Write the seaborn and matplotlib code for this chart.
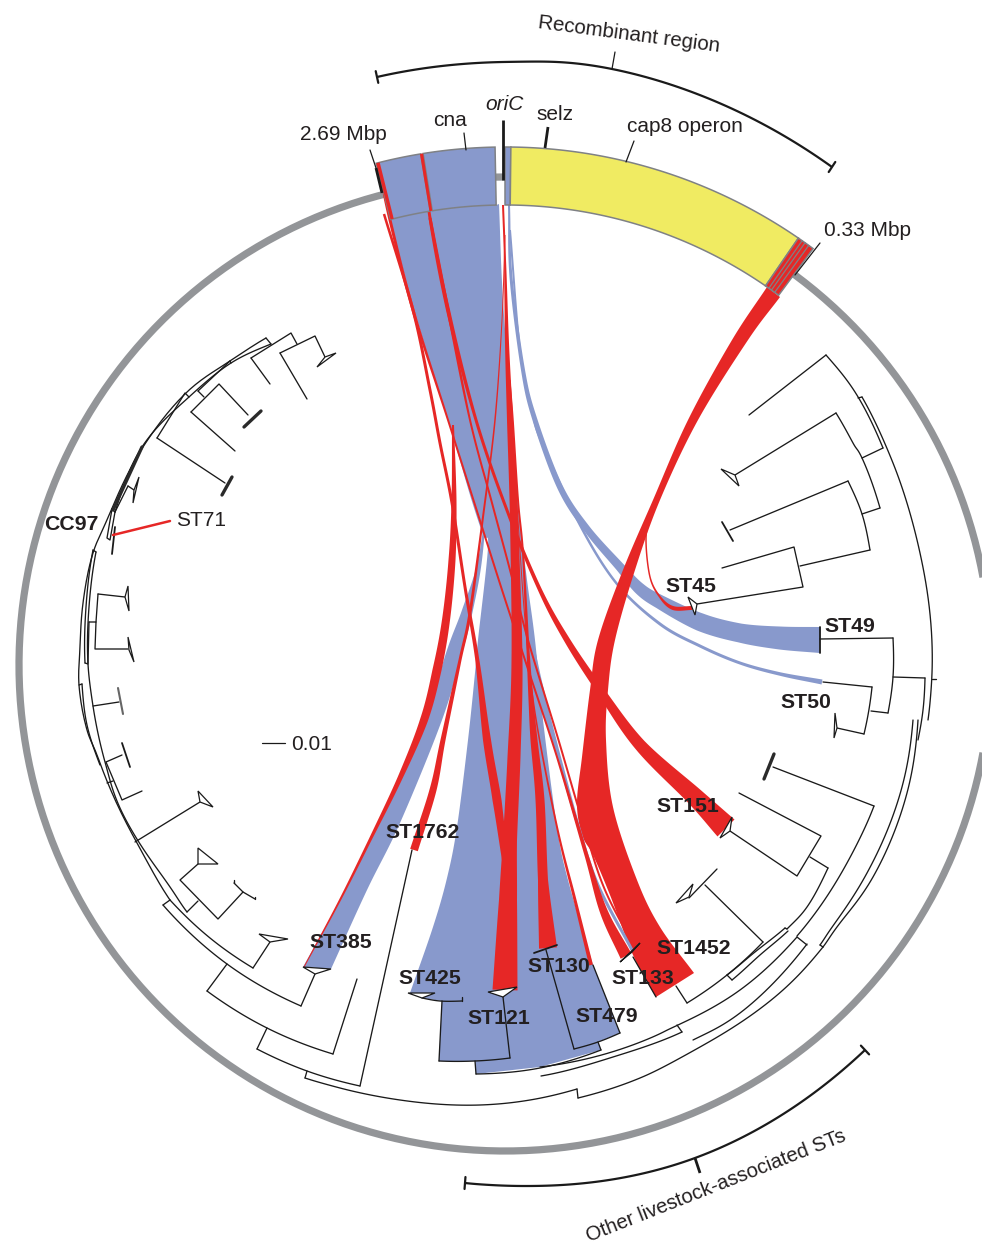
import numpy as np, pandas as pd
import matplotlib
matplotlib.use("Agg")
import matplotlib.pyplot as plt
import seaborn as sns

sns.set_theme(style="white")
plt.rcParams['font.family'] = ['Liberation Sans', 'DejaVu Sans']

BLUE, RED, YELLOW, GREY, INK = '#8899CC', '#E62726', '#F0EB62', '#939598', '#231F20'
CX, CY = 505, 665

# ---- genome ring / segments (degrees clockwise from north, radii in px)
ring_span = (36.5, 345.6)
ring_top_span = (-1.1, 0.0)
segments = [(-14.4, -9.35, BLUE), (-9.1, -1.1, BLUE), (0.0, 0.65, BLUE), (0.65, 34.5, YELLOW), (34.5, 36.5, RED)]
red_stripes = [(-14.4, -14.0), (-9.45, -9.1)]
grey_ticks = [35.0, 35.4, 35.9]

# ---- ribbons: centre line and width
ribbons = {
 'st385red': (RED, [(453,425),(454,500),(452,560),(446,620),(437,670),(424,720),(400,778),(370,840),(340,900),(304,967)],
              [2,5,7,8,9,8,5,3,2,1]),
 'a_st121': (RED, [(384,214),(413,310),(430,390),(440,443),(452,503),(465,587),(477,658),(487,740),(497,800),(505,860)],
              [2.5,3,3,3,3,3,4,8,9,6]),
 'b_st133': (RED, [(379,170),(390,220),(413,310),(448,420),(482,527),(503,593),(525,660),(557,757),(587,857),(604,912),(626,956)],
              [2,3,3,2,2,2,2,2,4,8,12]),
 'c_st151': (RED, [(424,160),(430,218),(448,310),(476,420),(508,513),(540,590),(567,640),(600,690),(640,745),(695,797),(726,828)],
              [2,3,4,3,3,4,6,8,12,18,24]),
 'd_st133': (RED, [(430,218),(448,310),(470,420),(492,503),(510,570),(528,640),(557,735),(585,830),(605,890),(636,950)],
              [3,3,2,2,2,2,2,2,2,2]),
 'centre': (RED, [(503,205),(505,260),(507,343),(510,420),(514,520),(517,660),(514,757),(510,840),(508,900),(505,990)],
              [2,2,4,6,8,11,13,14,18,25]),
 'st1762': (RED, [(505,235),(502,320),(495,420),(483,517),(470,613),(460,660),(443,740),(433,790),(414,850)],
              [1,1,1.5,2,3,3,5,7,8]),
 'st130': (RED, [(510,380),(513,420),(518,500),(523,553),(528,650),(531,700),(534,740),(540,800),(543,880),(548,948)],
              [1,1.5,2,2,3,5,7,9,10,18]),
 'st479line': (RED, [(510,400),(518,520),(525,620),(535,713),(557,827),(575,900),(591,965)],
              [1,1,1,1.5,2,3,4]),
 'st45': (RED, [(660,490),(650,515),(646,540),(650,577),(660,597),(673,608),(692,608)],
              [1.5,1.5,1.5,1.5,2,4,4]),
 'st49': (BLUE, [(509,205),(511,277),(523,370),(535,420),(560,487),(587,529),(620,567),(640,589),(660,602),(700,622),(740,633),(780,638),(820,640)],
              [2,3,4,5,6,7,9,12,14,18,19,23,26]),
 'st50': (BLUE, [(510,230),(520,350),(532,410),(542,443),(580,525),(617,584),(660,624),(700,646),(740,663),(780,674),(822,682)],
              [2,2,2,2.5,2.5,2.5,3,3,3,3.5,5]),
}
stripe_blue = (BLUE, [(529,640),(540,690),(557,750),(578,825),(598,885),(632,950)], [8,8,4,3,3,3])

main_left = [(389,218),(420,330),(448,420),(470,495),(483,535),(488,547),(478,640),(475,673),(468,740),(457,827),(447,878),(433,927),(410,993)]
main_right = [(499,204),(503,300),(513,430),(520,520),(527,580),(535,640),(543,720),(557,827),(568,880),(593,965)]
main_bottom = [(422,998),(442,1001),(439,1061),(475,1061),(476,1074),(540,1067),(601,1050),(598,1042),(620,1033)]

st385_left = [(488,490),(478,560),(462,610),(447,650),(425,720),(400,778),(370,840),(340,900),(303,967)]
st385_right = [(488,490),(482,560),(473,610),(463,650),(442,720),(400,823),(367,890),(331,969)]

big_left = [(767,287),(732,340),(688,420),(653,500),(623,570),(598,640),(590,690),(582,757),(577,803),(582,835),(593,855),(610,895),(633,955),(656,997)]
big_right = [(780,297),(748,340),(698,420),(660,500),(635,570),(615,640),(608,690),(606,740),(613,807),(637,880),(660,927),(694,973)]

# ---- tree: curved and straight branches
tree_curves = [
 [(826,355),(855,392),(883,448)], [(836,413),(853,443),(862,458),(880,508)], [(848,481),(862,514),(870,550)],
 [(862,397),(893,463),(920,553),(932,673),(928,720)],
 [(925,678),(923,710),(918,740)], [(872,687),(868,715),(864,734)], [(893,638),(893,677),(888,713)],
 [(918,720),(907,793),(873,877),(840,923),(823,947)], [(913,720),(902,787),(867,873),(835,923),(820,945)],
 [(874,806),(847,863),(797,936)], [(828,868),(807,907),(787,929)], [(763,942),(727,975),(687,1003)],
 [(807,944),(740,1013),(693,1040)], [(797,937),(740,990),(678,1025),(648,1039),(540,1067)],
 [(823,947),(783,990),(700,1047),(640,1078),(578,1098)], [(788,931),(760,955),(732,980)], [(785,928),(755,952),(727,975)],
 [(682,1032),(613,1057),(541,1076)], [(577,1089),(530,1100),(480,1105),(400,1100),(340,1088),(305,1078)],
 [(257,1049),(307,1071),(360,1086)], [(207,991),(267,1028),(333,1054)], [(163,905),(227,964),(301,1006)],
 [(170,900),(210,938),(253,968)], [(266,338),(230,361),(187,392),(143,447),(110,513),(93,553),(83,603),(80,647),(79,685),(87,730),(100,763),(137,843),(170,900)],
 [(271,344),(231,363),(189,397),(142,447),(115,512)], [(96,552),(89,607),(88,664),(93,706),(105,762),(120,808),(163,877),(187,912)],
 [(93,550),(86,607),(85,663)], [(82,684),(87,725),(100,765)], [(601,1050),(540,1068),(476,1074)],
 [(620,1033),(598,1042),(574,1049)], [(439,1061),(475,1061),(510,1058)], [(422,998),(440,1001),(462,1001)],
]
tree_lines = [
 [(749,415),(826,355)],[(883,448),(862,458)],[(735,475),(836,413)],[(880,508),(862,514)],[(730,530),(848,481)],
 [(870,550),(800,566)],[(722,568),(794,547),(803,587),(697,604)],[(893,677),(925,678)],[(893,638),(820,639)],
 [(888,713),(871,711)],[(872,687),(823,682)],[(864,734),(837,728)],[(932,679),(936,679)],[(858,398),(862,397)],
 [(773,767),(874,806)],[(739,793),(821,836),(797,876),(730,831)],[(810,857),(828,868)],[(717,869),(689,898)],
 [(705,885),(763,942)],[(687,1003),(676,986)],[(797,937),(807,945)],[(787,929),(785,928)],[(727,975),(732,980)],
 [(677,1025),(682,1032)],[(823,947),(820,945)],[(577,1089),(578,1098)],
 [(593,965),(620,1033)],[(574,1049),(546,950)],[(598,1042),(601,1050)],[(476,1074),(475,1061)],
 [(510,1058),(503,997)],[(439,1061),(442,1001)],[(462,1001),(462,997)],[(633,957),(656,997)],
 [(360,1086),(412,850)],[(305,1078),(307,1071)],[(257,1049),(267,1028)],[(333,1054),(357,979)],[(207,991),(227,964)],
 [(301,1006),(315,974)],[(163,905),(170,900)],[(187,912),(198,901)],[(198,864),(180,880),(218,919),(243,892)],
 [(234,883),(243,892),(255,899)],[(234,880),(234,883)],[(255,897),(255,899)],[(253,968),(270,942)],
 [(106,762),(122,755)],[(106,762),(122,800),(142,791)],[(107,783),(113,781)],[(135,842),(200,802)],
 [(266,338),(271,344)],[(230,361),(231,363)],[(251,358),(291,333),(297,344)],[(280,353),(315,336),(325,357)],
 [(280,353),(307,399)],[(251,358),(270,384)],[(198,391),(230,361)],[(198,391),(204,397)],
 [(191,412),(219,384),(248,415)],[(191,412),(235,451)],[(157,438),(185,393),(189,397)],[(157,438),(225,483)],
 [(112,509),(115,512)],[(112,509),(107,538),(110,540),(115,512)],[(128,486),(115,512)],[(128,486),(134,490)],
 [(93,550),(96,552)],[(85,663),(88,664)],[(98,594),(125,597)],[(98,594),(96,622)],[(89,622),(96,622),(95,649),(128,649)],
 [(89,622),(88,663)],[(93,706),(119,702)],[(79,685),(82,684)],
]
# tips: outer-a, outer-b, stem
tips = [
 (721,469,739,486,735,475),(688,597,695,615,697,604),(835,713,834,738,837,728),(720,838,732,817,730,831),
 (676,903,693,884,689,897),(620,962,640,943,632,952),(408,993,435,993,422,998),(488,992,517,987,503,997),
 (303,967,331,969,315,974),(259,934,288,939,270,942),(198,848,218,864,198,864),(198,791,213,807,200,802),
 (317,367,336,353,325,357),(139,477,133,503,134,490),(128,586,129,611,125,597),(128,637,134,662,129,650),
]
thin_bars = [((722,522),(733,541)),((115,527),(112,554)),((122,743),(130,767)),((534,953),(557,945)),((820,627),(820,653))]
thick_bars = [((244,427),(261,411)),((222,495),(232,477)),((774,754),(764,779)),((113,510),(142,447))]
soft_bars = [((118,688),(123,714))]

labels_bold = [('CC97',44,525),('ST45',665,587),('ST49',824,626),('ST50',780,702),('ST151',656,806),('ST1762',385,833),
 ('ST385',309,942),('ST425',398,978),('ST121',467,1018),('ST130',527,966),('ST479',575,1016),('ST133',611,978),('ST1452',656,949)]
labels_plain = [('2.69 Mbp',300,134),('cna',433,120),('selz',536,115),('cap8 operon',627,126),('0.33 Mbp',824,231),('ST71',176,521),('0.01',291,745)]
ticks_thin = [((370,150),(376,168)),((464,133),(466,150)),((634,141),(626,162)),((820,243),(795,275)),((612,69),(615,52))]
ticks_heavy = [((503,120),(503,180)),((548,127),(545,148)),((376,168),(382,193)),((695,1158),(700,1173))]
red_pointer = [(113,535),(170,521)]
scale_bar = [(262,743),(285,743)]
top_bracket = [(377,77),(503,62),(612,69),(832,167)]
bottom_bracket = [(465,1183),(523,1186),(695,1158),(865,1050)]


def polar(r, a):
    a = np.radians(np.asarray(a, float))
    return np.column_stack([CX + r*np.sin(a), CY - r*np.cos(a)])

def arc(r, a0, a1, n=120):
    return polar(r, np.linspace(a0, a1, n))

def smooth(pts, n=16):
    p = np.asarray(pts, float)
    if len(p) < 3:
        return p
    q = np.vstack([2*p[0]-p[1], p, 2*p[-1]-p[-2]])
    out = []
    for i in range(1, len(q)-2):
        t = np.linspace(0, 1, n, endpoint=False)[:, None]
        a, b, c, d = q[i-1], q[i], q[i+1], q[i+2]
        out.append(0.5*(2*b + (c-a)*t + (2*a-5*b+4*c-d)*t**2 + (3*b-a-3*c+d)*t**3))
    out.append(p[-1:])
    return np.vstack(out)

def round_smooth(pts, n=16):
    """Smooth a curve in polar space about the ring centre, so it stays arc-like."""
    p = np.asarray(pts, float)
    th = np.unwrap(np.arctan2(p[:, 0]-CX, CY-p[:, 1]))
    r = np.hypot(p[:, 0]-CX, p[:, 1]-CY)
    s = smooth(np.column_stack([th*450, r]), n)
    t, rr = s[:, 0]/450, s[:, 1]
    return np.column_stack([CX + rr*np.sin(t), CY - rr*np.cos(t)])

def band(pts, w, n=16):
    c = smooth(pts, n)
    W = np.interp(np.linspace(0, len(w)-1, len(c)), np.arange(len(w)), w)
    d = np.gradient(c, axis=0)
    d /= np.maximum(np.linalg.norm(d, axis=1, keepdims=True), 1e-6)
    nrm = np.column_stack([-d[:, 1], d[:, 0]])
    return np.vstack([c + nrm*W[:, None]/2, (c - nrm*W[:, None]/2)[::-1]])

fig = plt.figure(figsize=(9.82, 12.48), dpi=100)
ax = fig.add_axes([0, 0, 1, 1])

# ring
for s, r in ((ring_span, 486), (ring_top_span, 488)):
    P = arc(r, *s, n=400)
    ax.plot(P[:, 0], P[:, 1], color=GREY, lw=5.2, solid_capstyle='butt', zorder=1)

# main blue bundle
P = np.vstack([arc(460, -14.4, -1.1, 30), smooth(main_right), main_bottom[::-1], smooth(main_left)[::-1]])
ax.fill(P[:, 0], P[:, 1], color=BLUE, lw=0, zorder=2)
P = np.vstack([smooth(st385_left), smooth(st385_right)[::-1]])
ax.fill(P[:, 0], P[:, 1], color=BLUE, lw=0, zorder=2.1)
for name in ('st50', 'st49'):
    c, pts, w = ribbons[name]
    B = band(pts, w)
    ax.fill(B[:, 0], B[:, 1], color=c, lw=0, zorder=2.2)
P = np.vstack([smooth(big_left), smooth(big_right)[::-1]])
ax.fill(P[:, 0], P[:, 1], color=RED, lw=0, zorder=2.6)
B = band(stripe_blue[1], stripe_blue[2])
ax.fill(B[:, 0], B[:, 1], color=BLUE, lw=0, zorder=2.65)
for name, (c, pts, w) in ribbons.items():
    if name in ('st50', 'st49'):
        continue
    B = band(pts, w)
    ax.fill(B[:, 0], B[:, 1], color=c, lw=0, zorder=2.7)

# segments
for a0, a1, col in segments:
    P = np.vstack([arc(518, a0, a1, 80), arc(460, a1, a0, 80)])
    ax.fill(P[:, 0], P[:, 1], facecolor=col, edgecolor='#7F8185', lw=1.1, zorder=3)
for a0, a1 in red_stripes:
    P = np.vstack([arc(518, a0, a1, 5), arc(460, a1, a0, 5)])
    ax.fill(P[:, 0], P[:, 1], color=RED, lw=0, zorder=3.1)
for a in grey_ticks:
    P = polar(np.array([460, 518]), [a, a])
    ax.plot(P[:, 0], P[:, 1], color='#7F8185', lw=0.9, zorder=3.2)

# tree drawn through seaborn
rows = []
for i, c in enumerate(tree_curves):
    rows.append(pd.DataFrame(round_smooth(c), columns=['x', 'y']).assign(branch=f'c{i}'))
for i, l in enumerate(tree_lines):
    rows.append(pd.DataFrame(l, columns=['x', 'y']).assign(branch=f'l{i}'))
tree = pd.concat(rows, ignore_index=True)
sns.lineplot(data=tree, x='x', y='y', units='branch', estimator=None, sort=False,
             color='#1a1a1a', lw=0.95, ax=ax, zorder=4, legend=False)

for x1, y1, x2, y2, x3, y3 in tips:
    ax.fill([x1, x2, x3], [y1, y2, y3], facecolor='white', edgecolor='#1a1a1a', lw=0.9, zorder=4.5, joinstyle='miter')
for a, b in thin_bars:
    ax.plot(*zip(a, b), color='#1a1a1a', lw=1.3, zorder=4.6)
for a, b in thick_bars:
    ax.plot(*zip(a, b), color='#2a2a2a', lw=2.4, zorder=4.6)
for a, b in soft_bars:
    ax.plot(*zip(a, b), color='#666666', lw=1.5, zorder=4.6)

# annotation marks
for a, b in ticks_thin:
    ax.plot(*zip(a, b), color='#1a1a1a', lw=0.9, zorder=5)
for a, b in ticks_heavy:
    ax.plot(*zip(a, b), color='#1a1a1a', lw=2.0, zorder=5, solid_capstyle='butt')
ax.plot(*zip(*red_pointer), color=RED, lw=1.8, zorder=5)
ax.plot(*zip(*scale_bar), color='#1a1a1a', lw=0.9, zorder=5)
for br in (top_bracket, bottom_bracket):
    P = round_smooth(br, 40)
    ax.plot(P[:, 0], P[:, 1], color='#1a1a1a', lw=1.6, zorder=5, solid_capstyle='butt')
    for e in (P[0], P[-1]):
        u = (e - [CX, CY]) / np.hypot(*(e - [CX, CY]))
        E = np.vstack([e - 6*u, e + 6*u])
        ax.plot(E[:, 0], E[:, 1], color='#1a1a1a', lw=1.6, zorder=5)

for t, x, y in labels_plain:
    ax.text(x, y, t, fontsize=15, color=INK, va='center', ha='left', zorder=6)
ax.text(485, 104, 'oriC', fontsize=15, style='italic', color=INK, va='center', ha='left', zorder=6)
for t, x, y in labels_bold:
    ax.text(x, y, t, fontsize=15.3, fontweight='bold', color=INK, va='center', ha='left', zorder=6)
ax.text(629, 35, 'Recombinant region', fontsize=14.8, color=INK, rotation=-7.5, va='center', ha='center', rotation_mode='anchor', zorder=6)
ax.text(716, 1186, 'Other livestock-associated STs', fontsize=14.6, color=INK, rotation=21.5, va='center', ha='center', rotation_mode='anchor', zorder=6)

ax.set_xlim(0, 982)
ax.set_ylim(1248, 0)
ax.axis('off')
fig.savefig('out.png', dpi=100, facecolor='white')
